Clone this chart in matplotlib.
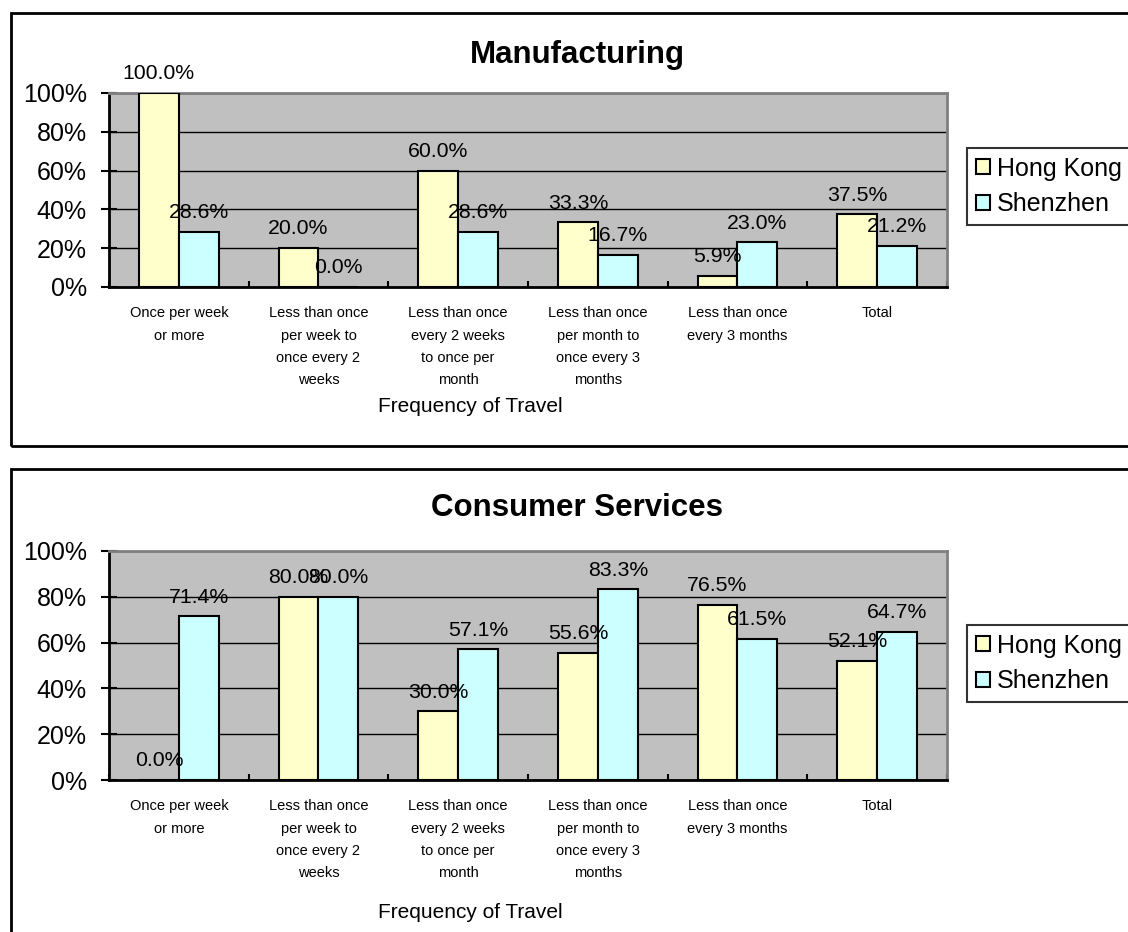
import matplotlib
matplotlib.use("Agg")
import matplotlib.pyplot as plt
import numpy as np
from matplotlib.patches import Patch, Rectangle

plt.rcParams['font.family'] = ['Liberation Sans', 'DejaVu Sans']

# data
categories = ["Once per week\nor more",
              "Less than once\nper week to\nonce every 2\nweeks",
              "Less than once\nevery 2 weeks\nto once per\nmonth",
              "Less than once\nper month to\nonce every 3\nmonths",
              "Less than once\nevery 3 months",
              "Total"]
series_names = ["Hong Kong", "Shenzhen"]
manuf_hk = [100.0, 20.0, 60.0, 33.3, 5.9, 37.5]
manuf_sz = [28.6, 0.0, 28.6, 16.7, 23.0, 21.2]
cons_hk = [0.0, 80.0, 30.0, 55.6, 76.5, 52.1]
cons_sz = [71.4, 80.0, 57.1, 83.3, 61.5, 64.7]

col_hk = "#FFFFCC"
col_sz = "#CCFFFF"

W, H = 1128, 932
fig = plt.figure(figsize=(W / 100, H / 100), dpi=100)

# chart frames
fig.patches.append(Rectangle((11 / W, 1 - 446 / H), 1.2, (446 - 13) / H,
                             transform=fig.transFigure, fill=False,
                             edgecolor="black", lw=2, zorder=0))
fig.patches.append(Rectangle((11 / W, -0.1), 1.2, 0.1 + (1 - 469 / H),
                             transform=fig.transFigure, fill=False,
                             edgecolor="black", lw=2, zorder=0))


def draw_chart(rect, title, hk, sz, title_y, xlab_y, leg_y):
    ax = fig.add_axes(rect)
    ax.set_facecolor("#C0C0C0")
    x = np.arange(len(categories))
    w = 1 / 3.5
    b1 = ax.bar(x - w / 2, hk, w, color=col_hk, edgecolor="black", lw=1.5, zorder=3)
    b2 = ax.bar(x + w / 2, sz, w, color=col_sz, edgecolor="black", lw=1.5, zorder=3)
    for bars, vals in ((b1, hk), (b2, sz)):
        for b, v in zip(bars, vals):
            ax.annotate("%.1f%%" % v, (b.get_x() + b.get_width() / 2, v),
                        xytext=(0, 7), textcoords="offset points",
                        ha="center", va="bottom", fontsize=15.3, zorder=5)
    ax.set_xlim(-0.5, len(categories) - 0.5)
    ax.set_ylim(0, 100)
    ax.set_yticks([0, 20, 40, 60, 80, 100])
    ax.set_yticklabels(["0%", "20%", "40%", "60%", "80%", "100%"], fontsize=18)
    ax.tick_params(axis="y", direction="inout", length=12, width=1.5, pad=10)
    ax.set_xticks(np.arange(len(categories) + 1) - 0.5)
    ax.set_xticklabels([])
    ax.tick_params(axis="x", which="major", direction="in", length=4, width=1.5)
    ax.set_xticks(x, minor=True)
    ax.set_xticklabels(categories, minor=True, fontsize=10.5, linespacing=1.75)
    ax.tick_params(axis="x", which="minor", length=0, pad=14)
    ax.yaxis.grid(True, color="black", lw=1)
    ax.set_axisbelow(True)
    for s in ("left", "bottom"):
        ax.spines[s].set_linewidth(2)
        ax.spines[s].set_color("black")
    for s in ("top", "right"):
        ax.spines[s].set_linewidth(2)
        ax.spines[s].set_color("#808080")
    fig.text(577 / W, 1 - title_y / H, title, fontsize=22.5, fontweight="bold",
             ha="center", va="center")
    fig.text(470 / W, 1 - xlab_y / H, "Frequency of Travel", fontsize=15,
             ha="center", va="center")
    handles = [Patch(facecolor=col_hk, edgecolor="black", lw=1.5),
               Patch(facecolor=col_sz, edgecolor="black", lw=1.5)]
    leg = fig.legend(handles, series_names, loc="upper left",
                     bbox_to_anchor=(967 / W, 1 - leg_y / H),
                     bbox_transform=fig.transFigure, fontsize=18,
                     frameon=True, fancybox=False, borderaxespad=0,
                     handlelength=0.55, handleheight=0.55, handletextpad=0.3,
                     labelspacing=0.45, borderpad=0.35)
    leg.get_frame().set_edgecolor("black")
    leg.get_frame().set_linewidth(1.5)
    return ax


draw_chart([109 / W, 1 - 287 / H, 838 / W, 194 / H], "Manufacturing",
           manuf_hk, manuf_sz, 55, 406, 148)
draw_chart([109 / W, 1 - 780 / H, 838 / W, 229 / H], "Consumer Services",
           cons_hk, cons_sz, 508, 912, 625)

fig.savefig("out.png", dpi=100)
